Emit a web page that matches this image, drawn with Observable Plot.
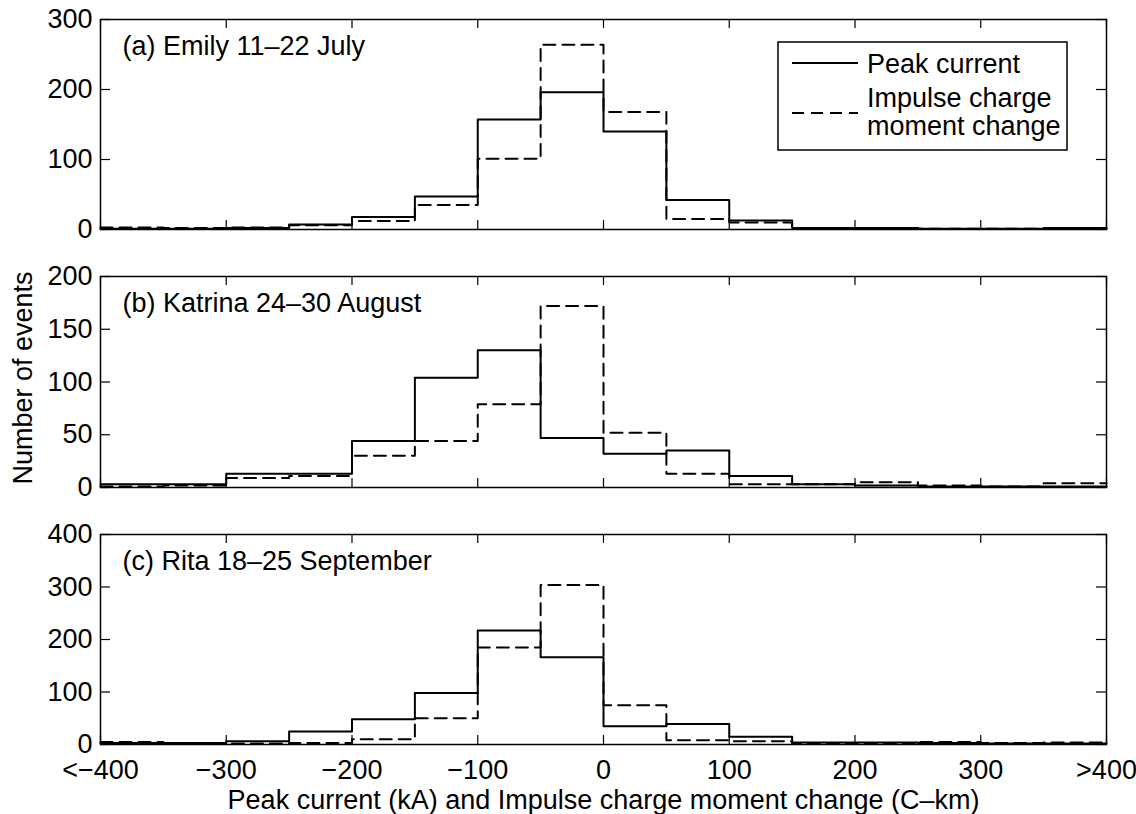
<!DOCTYPE html>
<html>
<head>
<meta charset="utf-8">
<script src="https://cdn.jsdelivr.net/npm/d3@7"></script>
<script src="https://cdn.jsdelivr.net/npm/@observablehq/plot@0.6"></script>
<style>
  body { margin: 0; background: #fff; }
  #chart { position: relative; width: 1136px; height: 814px; background: #fff;
           font-family: "Liberation Sans", Arial, Helvetica, sans-serif; }
  #chart > svg { position: absolute; left: 0; }
</style>
</head>
<body>
<div id="chart"></div>
<script>
// ---- data ----
const edges = [-400, -350, -300, -250, -200, -150, -100, -50, 0, 50, 100, 150, 200, 250, 300, 350, 400];
const xTicks = [-400, -300, -200, -100, 0, 100, 200, 300, 400];
const xTickLabels = ["<\u2212400", "\u2212300", "\u2212200", "\u2212100", "0", "100", "200", "300", ">400"];
const seriesNames = ["Peak current", "Impulse charge", "moment change"];
const panelTitles = ["(a) Emily 11\u201322 July", "(b) Katrina 24\u201330 August", "(c) Rita 18\u201325 September"];

const emilyPeak    = [1, 1, 2, 7, 18, 47, 157, 196, 140, 42, 13, 2, 2, 1, 1, 2];
const emilyImpulse = [3, 2, 3, 6, 12, 35, 101, 264, 168, 15, 10, 2, 2, 1, 1, 1];
const katrinaPeak    = [3, 3, 13, 13, 44, 104, 130, 47, 32, 35, 11, 3, 2, 1, 1, 1];
const katrinaImpulse = [1, 2, 9, 11, 30, 44, 79, 172, 52, 13, 3, 3, 5, 2, 1, 4];
const ritaPeak    = [3, 3, 6, 25, 48, 98, 217, 166, 35, 39, 15, 4, 4, 3, 2, 2];
const ritaImpulse = [5, 3, 2, 3, 10, 50, 185, 304, 75, 8, 6, 2, 2, 5, 3, 4];

const yTicksA = [0, 100, 200, 300];
const yTicksB = [0, 50, 100, 150, 200];
const yTicksC = [0, 100, 200, 300, 400];

const xLabel = "Peak current (kA) and Impulse charge moment change (C\u2013km)";
const yLabel = "Number of events";

// ---- helpers ----
const FONT = '"Liberation Sans", Arial, Helvetica, sans-serif';
const FS = 27;
const W = 1136, ML = 100, MR = 30;
const frameW = W - ML - MR;
function stairs(values) {
  return edges.map((e, i) => ({x: e, y: values[Math.min(i, values.length - 1)]}));
}

const panels = [
  {top: 0,   height: 240, mt: 19, mb: 11, domain: [0, 300], ticks: yTicksA, title: panelTitles[0], peak: emilyPeak, imp: emilyImpulse},
  {top: 240, height: 260, mt: 36, mb: 13, domain: [0, 200], ticks: yTicksB, title: panelTitles[1], peak: katrinaPeak, imp: katrinaImpulse, ylab: true},
  {top: 500, height: 314, mt: 34, mb: 70, domain: [0, 400], ticks: yTicksC, title: panelTitles[2], peak: ritaPeak, imp: ritaImpulse, xlab: true}
];

const chart = document.getElementById("chart");

for (const p of panels) {
  const frameH = p.height - p.mt - p.mb;
  const xt = 9, yt = 10;
  const marks = [
    Plot.line(stairs(p.imp), {x: "x", y: "y", curve: "step-after", stroke: "black", strokeWidth: 2, strokeDasharray: "12,7"}),
    Plot.line(stairs(p.peak), {x: "x", y: "y", curve: "step-after", stroke: "black", strokeWidth: 2}),
    // inward ticks on all four sides
    Plot.ruleX(xTicks, {x: d => d, insetTop: frameH - xt, stroke: "black", strokeWidth: 1.2}),
    Plot.ruleX(xTicks, {x: d => d, insetBottom: frameH - xt, stroke: "black", strokeWidth: 1.2}),
    Plot.ruleY(p.ticks, {y: d => d, insetRight: frameW - yt, stroke: "black", strokeWidth: 1.2}),
    Plot.ruleY(p.ticks, {y: d => d, insetLeft: frameW - yt, stroke: "black", strokeWidth: 1.2}),
    Plot.frame({stroke: "black", strokeWidth: 1.5}),
    Plot.axisY(p.ticks, {anchor: "left", tickSize: 0, tickPadding: 8, label: null, fontSize: FS, fill: "black"}),
    Plot.text([p.title], {text: d => d, frameAnchor: "top-left", textAnchor: "start", lineAnchor: "middle", dx: 22, dy: 27, fontSize: FS, fill: "black"})
  ];
  if (p.ylab) {
    marks.push(Plot.text([yLabel], {text: d => d, frameAnchor: "left", textAnchor: "middle", lineAnchor: "middle", rotate: -90, dx: -77, dy: -4, fontSize: FS, fill: "black"}));
  }
  if (p.xlab) {
    marks.push(Plot.axisX(xTicks, {anchor: "bottom", tickSize: 0, tickPadding: 15, tickFormat: d => xTickLabels[xTicks.indexOf(d)], label: null, fontSize: FS, fill: "black"}));
    marks.push(Plot.text([xLabel], {text: d => d, frameAnchor: "bottom", textAnchor: "middle", lineAnchor: "middle", dy: 56, fontSize: FS, fill: "black"}));
  }
  const svg = Plot.plot({
    width: W,
    height: p.height,
    marginTop: p.mt,
    marginBottom: p.mb,
    marginLeft: ML,
    marginRight: MR,
    x: {domain: [-400, 400], axis: null},
    y: {domain: p.domain, axis: null},
    style: {fontFamily: FONT, fontSize: FS + "px", color: "black", background: "transparent", overflow: "visible"},
    marks
  });
  svg.style.top = p.top + "px";
  chart.appendChild(svg);
}

// ---- legend (panel a) ----
const ns = "http://www.w3.org/2000/svg";
const leg = document.createElementNS(ns, "svg");
leg.setAttribute("width", 292);
leg.setAttribute("height", 111);
leg.style.left = "777px";
leg.style.top = "41px";
leg.style.position = "absolute";
leg.innerHTML = `
  <rect x="1" y="1" width="289" height="108" fill="white" stroke="black" stroke-width="1.5"/>
  <line x1="15" x2="81" y1="22" y2="22" stroke="black" stroke-width="2"/>
  <line x1="15" x2="81" y1="72" y2="72" stroke="black" stroke-width="2" stroke-dasharray="12,7"/>
  <g font-family='${FONT}' font-size="${FS}" fill="black">
    <text x="90" y="32">${seriesNames[0]}</text>
    <text x="90" y="66">${seriesNames[1]}</text>
    <text x="90" y="94">${seriesNames[2]}</text>
  </g>`;
chart.appendChild(leg);
</script>
</body>
</html>
